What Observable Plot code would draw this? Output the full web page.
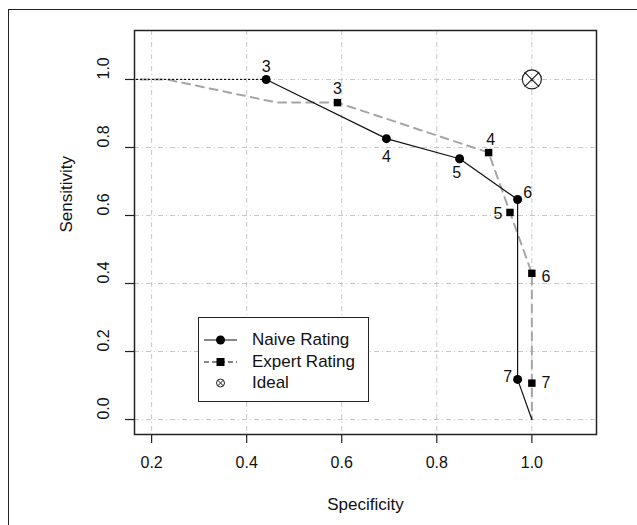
<!DOCTYPE html>
<html>
<head>
<meta charset="utf-8">
<script src="https://cdn.jsdelivr.net/npm/d3@7"></script>
<script src="https://cdn.jsdelivr.net/npm/@observablehq/plot@0.6"></script>
<style>
  html, body { margin: 0; padding: 0; background: #fff; overflow: hidden; width: 637px; height: 525px; }
  #wrap { position: relative; width: 637px; height: 525px; font-family: "Liberation Sans", Arial, Helvetica, sans-serif; }
  #outer { position: absolute; left: 8px; top: 9px; width: 700px; height: 600px; border: 1.5px solid #222; box-sizing: border-box; }
  #chart { position: absolute; left: 0; top: 0; }
  #legend { position: absolute; left: 198px; top: 317px; width: 171px; height: 85px; border: 1.5px solid #222; background: #fff; box-sizing: border-box; font-size: 17px; color: #111; }
  #legend .row { position: absolute; left: 0; height: 20px; display: flex; align-items: center; }
  #legend svg { margin-left: 4px; width: 36px; height: 20px; }
  #legend span { margin-left: 13px; }
</style>
</head>
<body>
<div id="wrap">
  <div id="outer"></div>
  <div id="chart"></div>
  <div id="legend"></div>
</div>
<script>
// ---- data ----
const naiveSpec  = [0.441, 0.694, 0.848, 0.970, 0.970];
const naiveSens  = [1.000, 0.826, 0.767, 0.647, 0.118];
const naiveLabels = ["3", "4", "5", "6", "7"];
const naiveStart = [0.0, 1.0];   // curve start (spec, sens)
const naiveEnd   = [1.0, 0.0];   // curve end

const expertSpec = [0.591, 0.909, 0.954, 1.000, 1.000];
const expertSens = [0.932, 0.785, 0.609, 0.430, 0.107];
const expertLabels = ["3", "4", "5", "6", "7"];
const expertLeadSpec = [0.0, 0.232, 0.464];   // unlabeled leading curve points
const expertLeadSens = [1.0, 1.000, 0.932];
const expertEnd  = [1.0, 0.0];

const idealSpec = [1.0];
const idealSens = [1.0];

const xTicks = [0.2, 0.4, 0.6, 0.8, 1.0];
const yTicks = [0.0, 0.2, 0.4, 0.6, 0.8, 1.0];

// ---- tables ----
const naive = naiveSpec.map((s, i) => ({spec: s, sens: naiveSens[i], label: naiveLabels[i]}));
const expert = expertSpec.map((s, i) => ({spec: s, sens: expertSens[i], label: expertLabels[i]}));
const naiveSolid = [...naive, {spec: naiveEnd[0], sens: naiveEnd[1]}];
const naiveDotted = [{spec: naiveStart[0], sens: naiveStart[1]}, naive[0]];
const expertLine = [
  ...expertLeadSpec.map((s, i) => ({spec: s, sens: expertLeadSens[i]})),
  ...expert,
  {spec: expertEnd[0], sens: expertEnd[1]}
];
const ideal = idealSpec.map((s, i) => ({spec: s, sens: idealSens[i]}));

const fmt = d3.format(".1f");
const FONT = "Liberation Sans, Arial, Helvetica, sans-serif";

const idealSymbol = {
  draw(ctx, size) {
    const r = Math.sqrt(size / Math.PI);
    const d = r * 0.78;
    ctx.moveTo(r, 0);
    ctx.arc(0, 0, r, 0, 2 * Math.PI);
    ctx.moveTo(-d, -d); ctx.lineTo(d, d);
    ctx.moveTo(-d, d); ctx.lineTo(d, -d);
  }
};

// per-label offsets (R text pos)
const naiveOff = {"3": [0, -13], "4": [0, 18], "5": [-3, 14], "6": [10, -7], "7": [-10, -3]};
const expertOff = {"3": [0, -14], "4": [2, -13], "5": [-12, 1], "6": [14, 4], "7": [14, 0]};

const chart = Plot.plot({
  width: 637,
  height: 525,
  marginLeft: 134,
  marginRight: 41,
  marginTop: 30,
  marginBottom: 91,
  style: {fontFamily: FONT, background: "transparent", color: "#111"},
  x: {domain: [0.164, 1.136]},
  y: {domain: [-0.044, 1.144]},
  marks: [
    Plot.ruleX(xTicks, {stroke: "#c8c8c8", strokeWidth: 1, strokeDasharray: "5,3,1,3"}),
    Plot.ruleY(yTicks, {stroke: "#c8c8c8", strokeWidth: 1, strokeDasharray: "5,3,1,3"}),
    Plot.line(expertLine, {x: "spec", y: "sens", stroke: "#a6a6a6", strokeWidth: 2, strokeDasharray: "8,6", clip: true}),
    Plot.line(naiveDotted, {x: "spec", y: "sens", stroke: "#111", strokeWidth: 1.2, strokeDasharray: "1,3", clip: true}),
    Plot.line(naiveSolid, {x: "spec", y: "sens", stroke: "#111", strokeWidth: 1.2}),
    Plot.dot(naive, {x: "spec", y: "sens", r: 4.5, fill: "#000", stroke: "none"}),
    Plot.dot(expert, {x: "spec", y: "sens", symbol: "square", r: 4.2, fill: "#000", stroke: "none"}),
    Plot.dot(ideal, {x: "spec", y: "sens", symbol: idealSymbol, r: 9.5, fill: "none", stroke: "#222", strokeWidth: 1.2}),
    ...naive.map(d => Plot.text([d], {x: "spec", y: "sens", text: "label", dx: naiveOff[d.label][0], dy: naiveOff[d.label][1], fontSize: 16, fill: "#111"})),
    ...expert.map(d => Plot.text([d], {x: "spec", y: "sens", text: "label", dx: expertOff[d.label][0], dy: expertOff[d.label][1], fontSize: 16, fill: "#111"})),
    Plot.frame({stroke: "#222", strokeWidth: 1.5}),
    Plot.axisX(xTicks, {tickSize: 9, tickPadding: 13, tickFormat: fmt, fontSize: 16, label: null, stroke: "#222", strokeWidth: 1.2}),
    Plot.axisY(yTicks, {tickSize: 9, tickFormat: () => "", label: null, stroke: "#222", strokeWidth: 1.2}),
    Plot.text(yTicks, {y: d => d, text: d => fmt(d), frameAnchor: "left", dx: -31, rotate: -90, fontSize: 16, fill: "#111"}),
    Plot.text(["Sensitivity"], {text: d => d, frameAnchor: "left", dx: -68, rotate: -90, fontSize: 17, fill: "#111"}),
    Plot.text(["Specificity"], {text: d => d, frameAnchor: "bottom", dy: 75, fontSize: 17, fill: "#111"})
  ]
});
document.getElementById("chart").appendChild(chart);

// ---- legend ----
const legendItems = [
  {name: "Naive Rating", kind: "naive"},
  {name: "Expert Rating", kind: "expert"},
  {name: "Ideal", kind: "ideal"}
];
const legend = document.getElementById("legend");
const rowTops = [12, 34, 55];
legendItems.forEach((it, i) => {
  const row = document.createElement("div");
  row.className = "row";
  row.style.top = rowTops[i] + "px";
  let g = "";
  if (it.kind === "naive") {
    g = `<line x1="1" y1="10" x2="34" y2="10" stroke="#111" stroke-width="1.2"/><circle cx="17.5" cy="10" r="4.5" fill="#000"/>`;
  } else if (it.kind === "expert") {
    g = `<line x1="1" y1="10" x2="34" y2="10" stroke="#111" stroke-width="1.2" stroke-dasharray="5,3"/><rect x="13.5" y="6" width="8" height="8" fill="#000"/>`;
  } else {
    g = `<circle cx="17.5" cy="10" r="4" fill="none" stroke="#222" stroke-width="1"/><path d="M14.5,7 L20.5,13 M14.5,13 L20.5,7" stroke="#222" stroke-width="1"/>`;
  }
  row.innerHTML = `<svg viewBox="0 0 36 20">${g}</svg><span>${it.name}</span>`;
  legend.appendChild(row);
});
</script>
</body>
</html>
